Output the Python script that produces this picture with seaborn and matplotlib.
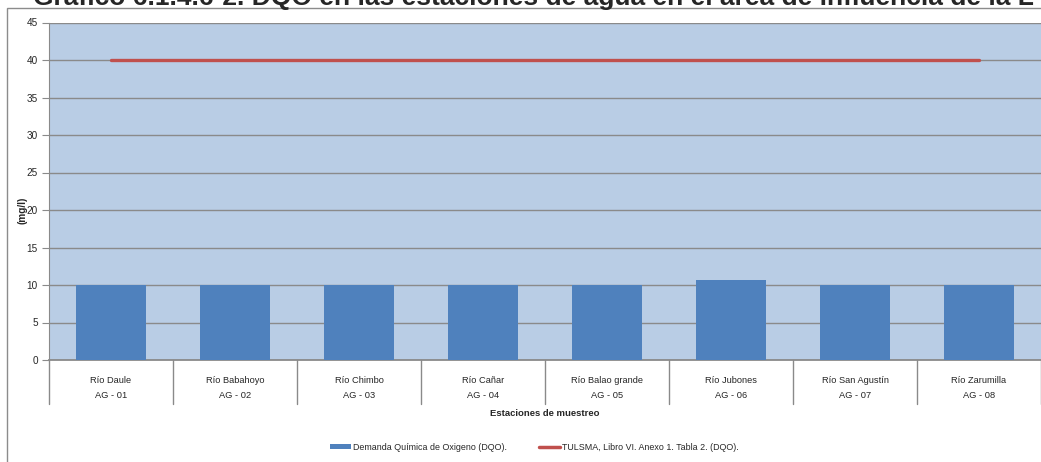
import numpy as np
import pandas as pd
import matplotlib
matplotlib.use("Agg")
import matplotlib.pyplot as plt
from matplotlib.patches import Rectangle, Patch
from matplotlib.lines import Line2D
import seaborn as sns

# data
rios = ['Río Daule', 'Río Babahoyo', 'Río Chimbo', 'Río Cañar',
        'Río Balao grande', 'Río Jubones', 'Río San Agustín', 'Río Zarumilla']
codigos = ['AG - 01', 'AG - 02', 'AG - 03', 'AG - 04',
           'AG - 05', 'AG - 06', 'AG - 07', 'AG - 08']
dqo = [10, 10, 10, 10, 10, 10.7, 10, 10]
limite = [40, 40, 40, 40, 40, 40, 40, 40]
yticks = [0, 5, 10, 15, 20, 25, 30, 35, 40, 45]

titulo = ('Gráfico 6.1.4.6-2. DQO en las estaciones de agua en el área '
          'de influencia de la L')

sns.set_style('white')
plt.rcParams['font.family'] = ['Liberation Sans Narrow', 'Liberation Sans', 'DejaVu Sans']

W, H = 1041, 462
fig = plt.figure(figsize=(W / 100, H / 100), dpi=100)

def fx(px):
    return px / W

def fy(py):
    return 1 - py / H

# outer frame of the chart object
fig.patches.append(Rectangle((fx(7), fy(470)), fx(1100), 462 / H,
                             transform=fig.transFigure, fill=False,
                             edgecolor='#8c8c8c', lw=1.0))
# title, cut off at the top edge as in the source
fig.text(fx(33), fy(4.5), titulo, fontsize=19, fontweight='bold',
         family=['Liberation Sans', 'DejaVu Sans'], va='baseline', ha='left')

ax = fig.add_axes([fx(49), fy(360), fx(1041 - 49), (360 - 22.5) / H])
ax.set_facecolor('#B9CDE5')

df = pd.DataFrame({'estacion': codigos, 'dqo': dqo, 'limite': limite})
sns.barplot(data=df, x='estacion', y='dqo', color='#4F81BD', saturation=1,
            width=0.57, ax=ax, zorder=3, linewidth=0, edgecolor='none')
xs = np.arange(len(codigos))
ax.plot(xs, limite, color='#C0504D', lw=2.4, zorder=4)

ax.set_xlim(-0.5, 7.5)
ax.set_ylim(0, 45)
ax.set_yticks(yticks)
ax.set_yticklabels([str(v) for v in yticks], fontsize=7.2)
ax.yaxis.grid(True, color='#8a8a8a', lw=1.0)
ax.set_axisbelow(True)
ax.tick_params(axis='y', length=5, color='#8a8a8a', pad=3, left=True)
ax.tick_params(axis='x', length=0)
ax.set_xticks([])
ax.set_xlabel('')
ax.set_ylabel('')
for s in ['top', 'right']:
    ax.spines[s].set_visible(False)
ax.spines['left'].set_color('#8a8a8a')
ax.spines['bottom'].set_color('#8a8a8a')
ax.spines['bottom'].set_linewidth(1.3)

# two-row category table under the axis
for i in range(len(rios)):
    ax.text(i, -2.7, rios[i], ha='center', va='center', fontsize=6.7, clip_on=False)
    ax.text(i, -4.8, codigos[i], ha='center', va='center', fontsize=6.7, clip_on=False)
for b in np.arange(-0.5, 8.0, 1.0):
    ax.plot([b, b], [0, -5.9], color='#8a8a8a', lw=1.0, clip_on=False)

fig.text(fx(545), fy(413), 'Estaciones de muestreo', fontsize=6.8,
         fontweight='bold', ha='center', va='center')
fig.text(fx(22), fy(210), '(mg/l)', fontsize=7.2, fontweight='bold',
         rotation=90, ha='center', va='center')

handles = [Patch(facecolor='#4F81BD', edgecolor='none'),
           Line2D([0], [0], color='#C0504D', lw=2.5)]
labels = ['Demanda Química de Oxigeno (DQO).',
          'TULSMA, Libro VI. Anexo 1. Tabla 2. (DQO).']
fig.legend(handles, labels, loc='center', bbox_to_anchor=(fx(534), fy(447)),
           ncol=2, frameon=False, fontsize=6.4, handlelength=2.4,
           handleheight=0.6, handletextpad=0.2, columnspacing=3.6)

fig.savefig('out.png', dpi=100)
